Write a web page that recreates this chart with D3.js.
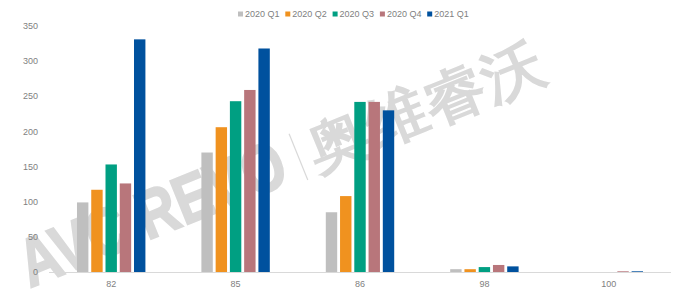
<!DOCTYPE html>
<html>
<head>
<meta charset="utf-8">
<script src="https://cdn.jsdelivr.net/npm/d3@7"></script>
<style>
  body { margin: 0; background: #fff; }
  text { font-family: "Liberation Sans", "DejaVu Sans", sans-serif; }
</style>
</head>
<body>
<div id="chart"></div>
<script>
// chart data
const categories = ["82", "85", "86", "98", "100"];
const seriesNames = ["2020 Q1", "2020 Q2", "2020 Q3", "2020 Q4", "2021 Q1"];
const q1_2020 = [99, 170, 85, 4, 0];
const q2_2020 = [117, 206, 108, 4, 0];
const q3_2020 = [153, 243, 242, 7, 0];
const q4_2020 = [126, 259, 242, 10, 1];
const q1_2021 = [331, 318, 230, 8, 1];
const yTicks = [0, 50, 100, 150, 200, 250, 300, 350];
const colors = ["#bfbfbf", "#f0921f", "#009f82", "#b8767b", "#00519e"];

const seriesValues = [q1_2020, q2_2020, q3_2020, q4_2020, q1_2021];

const width = 675, height = 300;
const margin = {top: 26, right: 4, bottom: 28, left: 49};
const innerW = width - margin.left - margin.right;
const innerH = height - margin.top - margin.bottom;

const svg = d3.select("#chart").append("svg")
    .attr("width", width)
    .attr("height", height);

// watermark (behind bars)
const wm = svg.append("g")
    .attr("transform", "translate(30,288) rotate(-22)")
    .attr("fill", "#d9d9d9");
wm.append("text")
    .attr("x", 0).attr("y", 0)
    .attr("font-size", 68)
    .attr("font-weight", "bold")
    .attr("font-family", "'DejaVu Sans', sans-serif")
    .attr("stroke", "#d9d9d9")
    .attr("stroke-width", 2)
    .attr("textLength", 282)
    .attr("lengthAdjust", "spacingAndGlyphs")
    .text("AVC REVO");
wm.append("line")
    .attr("x1", 298).attr("y1", 4)
    .attr("x2", 298).attr("y2", -46)
    .attr("stroke", "#d9d9d9")
    .attr("stroke-width", 1.2);
wm.append("text")
    .attr("x", 310).attr("y", 0)
    .attr("font-size", 58)
    .attr("font-weight", "bold")
    .attr("font-family", "'Noto Sans CJK SC', sans-serif")
    .attr("textLength", 250)
    .attr("lengthAdjust", "spacingAndGlyphs")
    .text("奥维睿沃");

const g = svg.append("g")
    .attr("transform", "translate(" + margin.left + "," + margin.top + ")");

const x0 = d3.scaleBand()
    .domain(categories)
    .range([0, innerW])
    .paddingInner(0.45)
    .paddingOuter(0.225);

const x1 = d3.scaleBand()
    .domain(seriesNames)
    .range([0, x0.bandwidth()])
    .paddingInner(0.2);

const y = d3.scaleLinear()
    .domain([0, 350])
    .range([innerH, 0]);

// y tick labels
g.selectAll(".ytick")
    .data(yTicks)
    .enter()
    .append("text")
    .attr("class", "ytick")
    .attr("x", -11)
    .attr("y", d => y(d))
    .attr("dy", "0.35em")
    .attr("text-anchor", "end")
    .attr("font-size", "9px")
    .attr("fill", "#7f7f7f")
    .text(d => d);

// bars
const groups = g.selectAll(".cat")
    .data(categories)
    .enter()
    .append("g")
    .attr("class", "cat")
    .attr("transform", d => "translate(" + x0(d) + ",0)");

groups.selectAll("rect")
    .data((d, i) => seriesNames.map((s, j) => ({s: s, v: seriesValues[j][i], c: colors[j]})))
    .enter()
    .append("rect")
    .attr("x", d => x1(d.s))
    .attr("y", d => y(d.v))
    .attr("width", x1.bandwidth())
    .attr("height", d => innerH - y(d.v))
    .attr("fill", d => d.c);

// x axis line
g.append("line")
    .attr("x1", 0).attr("x2", innerW)
    .attr("y1", innerH + 0.5).attr("y2", innerH + 0.5)
    .attr("stroke", "#d9d9d9")
    .attr("stroke-width", 1);

g.selectAll(".xlabel")
    .data(categories)
    .enter()
    .append("text")
    .attr("class", "xlabel")
    .attr("x", d => x0(d) + x0.bandwidth() / 2)
    .attr("y", innerH + 15)
    .attr("text-anchor", "middle")
    .attr("font-size", "9px")
    .attr("fill", "#7f7f7f")
    .text(d => d);

// legend
const legend = svg.append("g")
    .attr("transform", "translate(238,0)");

const items = legend.selectAll(".legend-item")
    .data(seriesNames)
    .enter()
    .append("g")
    .attr("class", "legend-item")
    .attr("transform", (d, i) => "translate(" + (i * 47.3) + ",0)");

items.append("rect")
    .attr("x", 0).attr("y", 11.5)
    .attr("width", 5).attr("height", 5)
    .attr("fill", (d, i) => colors[i]);

items.append("text")
    .attr("x", 7).attr("y", 17)
    .attr("font-size", "9px")
    .attr("fill", "#7f7f7f")
    .text(d => d);
</script>
</body>
</html>
